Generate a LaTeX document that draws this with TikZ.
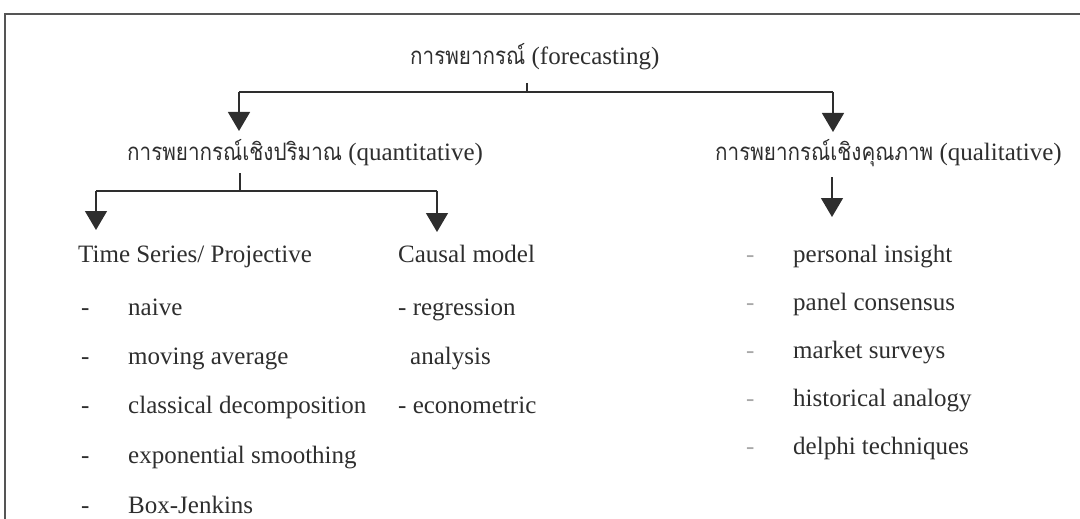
\documentclass[tikz,border=0pt]{standalone}
\usepackage{fontspec}
\setmainfont{Liberation Serif}
\newfontfamily\thai[Script=Thai,FakeStretch=0.86]{Loma}
\usetikzlibrary{arrows.meta}
\definecolor{ink}{HTML}{2E2E2E}
\definecolor{frame}{HTML}{555555}
\definecolor{fadedash}{HTML}{A8A8A8}
\tikzset{
  x=1pt, y=-1pt,
  lbl/.style={inner sep=0pt, anchor=base west, text=ink, font=\fontsize{25}{29}\selectfont},
  conn/.style={draw=ink, line width=1.4pt},
  arr/.style={conn, -{Triangle[width=22pt,length=19pt]}},
  framestyle/.style={draw=frame, line width=1.6pt},
}
\begin{document}
\begin{tikzpicture}
\useasboundingbox (0,0) rectangle (1080,519);
% frame
\draw[framestyle] (1080,14) -- (5,14) -- (5,519);

% headings
\node[lbl] (fc) at (410,65) {{\thai\fontsize{24}{28}\selectfont การพยากรณ์} (forecasting)};
\node[lbl] (quant) at (127,160) {{\thai\fontsize{24}{28}\selectfont การพยากรณ์เชิงปริมาณ} (quantitative)};
\node[lbl] (qual) at (715,160) {{\thai\fontsize{24}{28}\selectfont การพยากรณ์เชิงคุณภาพ} (qualitative)};
\node[lbl] (ts) at (78,262) {Time Series/ Projective};
\node[lbl] (cm) at (398,262) {Causal model};

% left list
\foreach \y/\t [count=\i] in {315/naive,364/moving average,413/classical decomposition,463/exponential smoothing,513/Box-Jenkins}{
  \node[lbl] (tsd\i) at (81,\y) {-};
  \node[lbl] (tsi\i) at (128,\y) {\t};
}
% causal list
\node[lbl] (cm1) at (398,315) {- regression};
\node[lbl] (cm2) at (410,364) {analysis};
\node[lbl] (cm3) at (398,413) {- econometric};
% right list
\foreach \y/\t [count=\i] in {262/personal insight,310/panel consensus,358/market surveys,406/historical analogy,454/delphi techniques}{
  \node[lbl, text=fadedash] (qld\i) at (746,\y) {-};
  \node[lbl] (qli\i) at (793,\y) {\t};
}

% connectors level 1
\coordinate (t1) at (527,83);
\coordinate (j1) at (527,92);
\coordinate (j1L) at (239,92);
\coordinate (j1R) at (833,92);
\coordinate (a1L) at (239,131);
\coordinate (a1R) at (833,132);
\draw[conn] (t1) -- (j1);
\draw[conn] (j1L) -- (j1R);
\draw[arr] (j1L) -- (a1L);
\draw[arr] (j1R) -- (a1R);

% connectors level 2 (quantitative)
\coordinate (t2) at (240,173);
\coordinate (j2) at (240,191);
\coordinate (j2L) at (96,191);
\coordinate (j2R) at (437,191);
\coordinate (a2L) at (96,230);
\coordinate (a2R) at (437,232);
\draw[conn] (t2) -- (j2);
\draw[conn] (j2L) -- (j2R);
\draw[arr] (j2L) -- (a2L);
\draw[arr] (j2R) -- (a2R);

% qualitative arrow
\coordinate (t3) at (832,177);
\coordinate (a3) at (832,217);
\draw[arr] (t3) -- (a3);
\end{tikzpicture}
\end{document}
